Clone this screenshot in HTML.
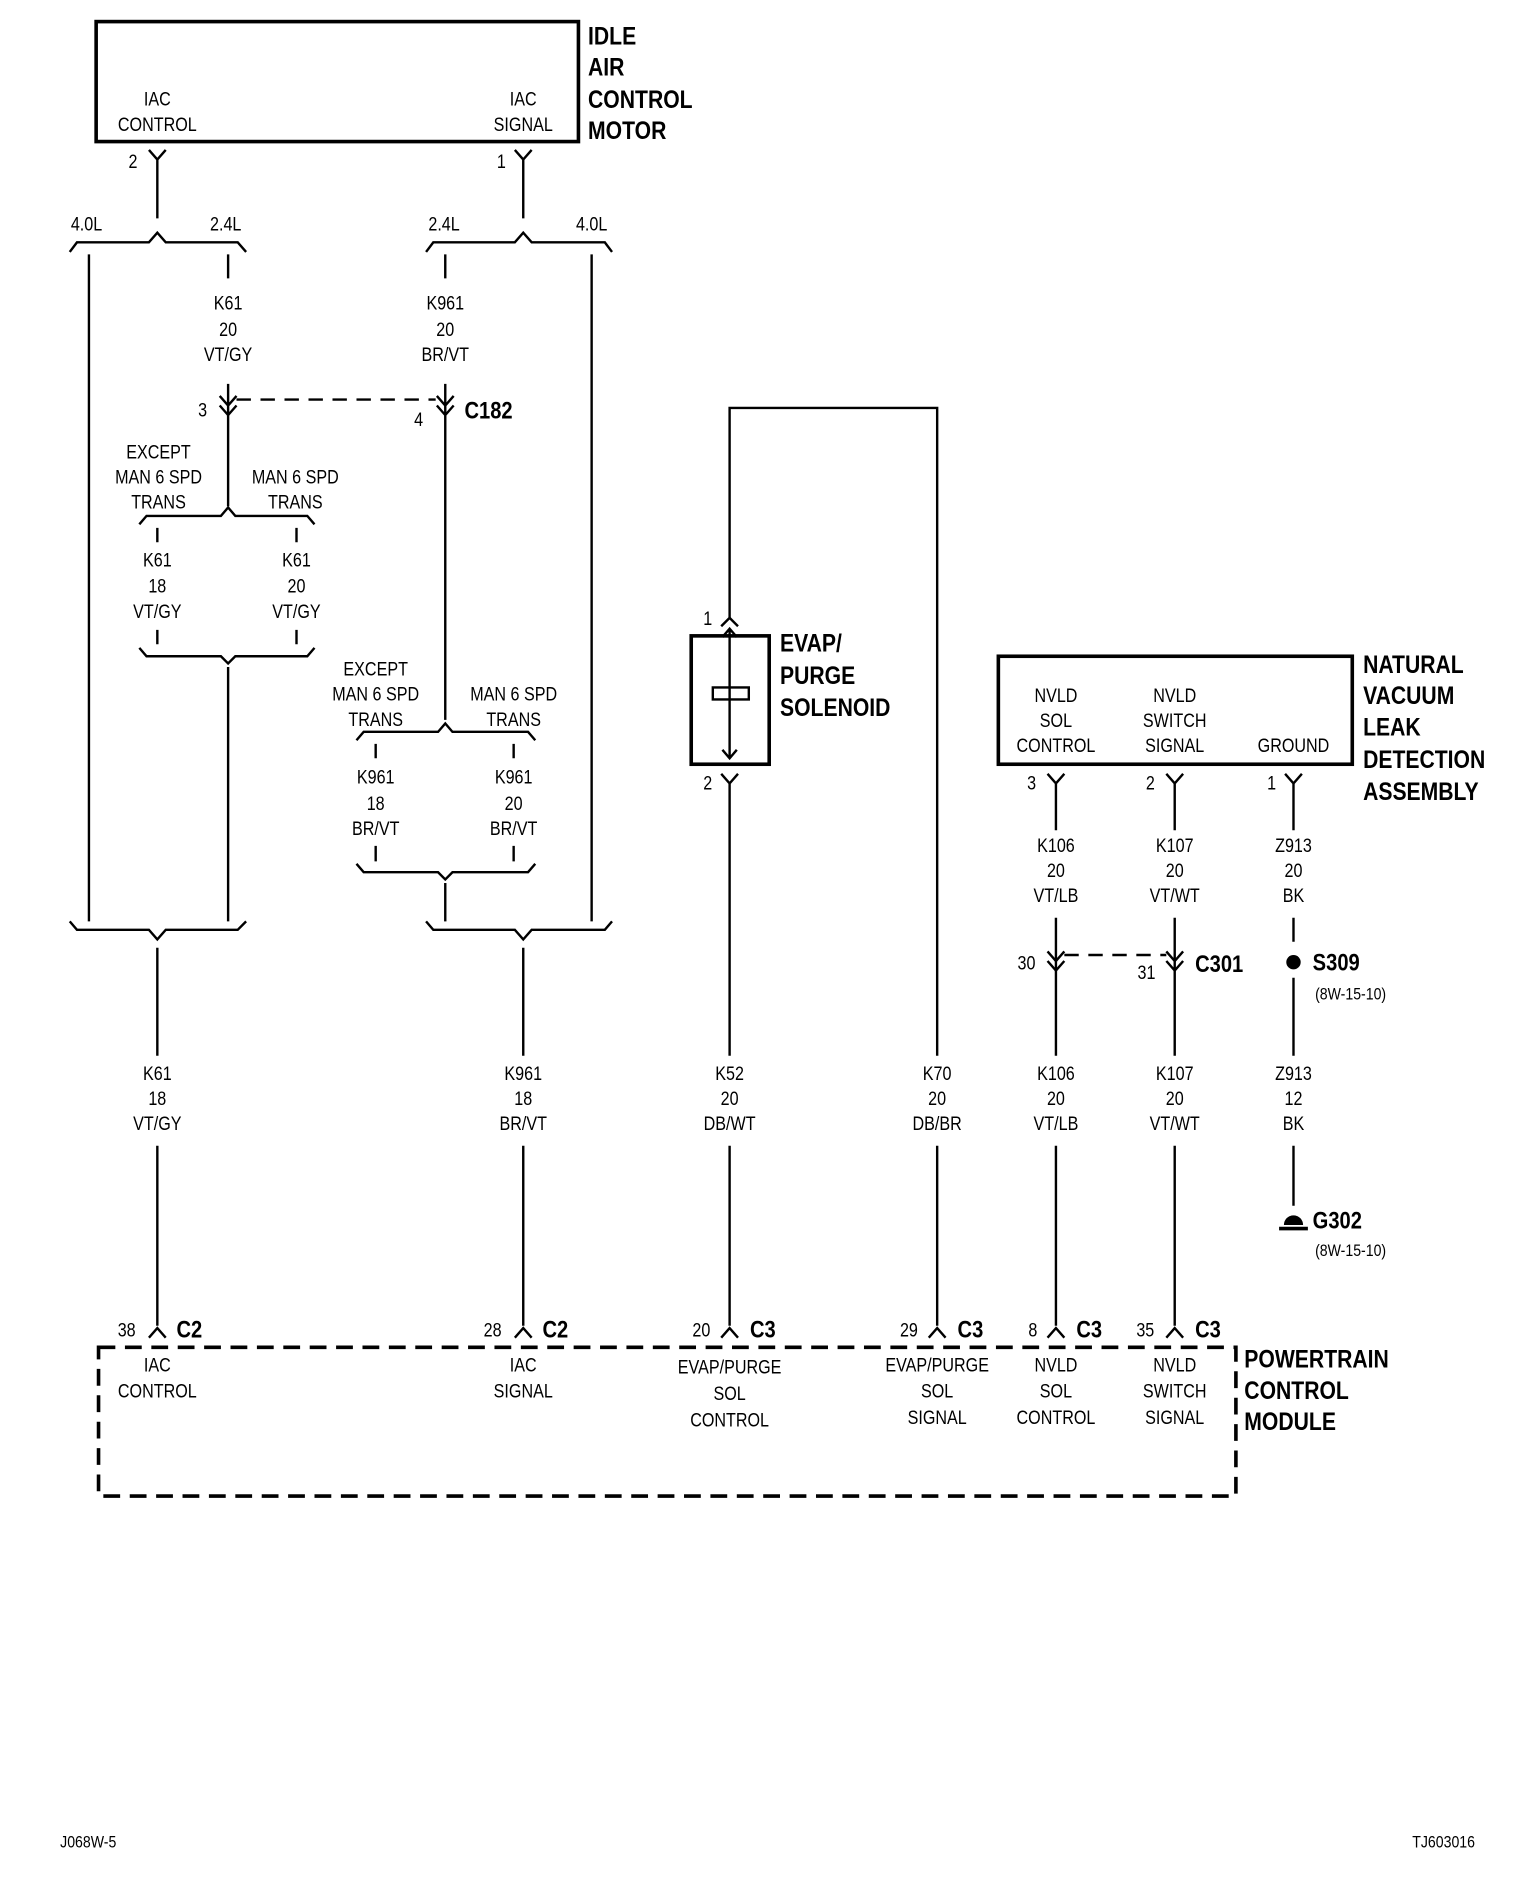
<!DOCTYPE html>
<html><head><meta charset="utf-8"><style>
html,body{margin:0;padding:0;background:#fff;}
svg{display:block;}
text{font-family:"Liberation Sans Narrow","Liberation Sans",sans-serif;font-size:16px;fill:#000;}
.b{font-weight:bold;font-size:21px;}
.c{text-anchor:middle;}
.s{font-size:14px;}
</style></head><body>
<svg id="d" width="1536" height="1904" viewBox="0 0 1280 1587" xmlns="http://www.w3.org/2000/svg">
<g fill="none" stroke="#000" stroke-width="2">
<rect x="80" y="18" width="402" height="100" stroke-width="3"/>
<path d="M124,125 L131,133 L138,125 M131,133 V182"/>
<path d="M429,125 L436,133 L443,125 M436,133 V182"/>
<path d="M58,210 L64,202 H124 L131,194 L138,202 H198 L205,210"/>
<path d="M355,210 L361,202 H429 L436,194 L443,202 H504 L510,210"/>
<path d="M74,212 V768 M190,212 V232 M371,212 V232 M493,212 V768"/>
<path d="M190,320 V346 M183,330 L190,338 L197,330 M183,338 L190,346 L197,338"/>
<path d="M371,320 V600 M364,330 L371,338 L378,330 M364,338 L371,346 L378,338"/>
<path d="M197,333 H363" stroke-dasharray="12,8"/>
<path d="M190,346 V422"/>
<path d="M116,437 L122,430 H184 L190,423 L196,430 H256 L262,437"/>
<path d="M131,440 V452 M247,440 V452 M131,525 V537 M247,525 V537"/>
<path d="M116,540 L122,547 H184 L190,553 L196,547 H256 L262,540"/>
<path d="M190,556 V768"/>
<path d="M297,617 L303,610 H365 L371,603 L377,610 H440 L446,617"/>
<path d="M313,620 V632 M428,620 V632 M313,705 V718 M428,705 V718"/>
<path d="M297,720 L303,727 H365 L371,733 L377,727 H440 L446,720"/>
<path d="M371,736 V768"/>
<path d="M58,768 L64,775 H124 L131,783 L138,775 H198 L205,768"/>
<path d="M355,768 L361,775 H429 L436,783 L443,775 H504 L510,768"/>
<path d="M131,790 V880 M131,955 V1105 M436,790 V880 M436,955 V1105"/>
<path d="M608,515 V340 H781 V880 M781,955 V1105"/>
<rect x="576" y="530" width="65" height="107" stroke-width="3"/>
<path d="M601,522 L608,515 L615,522"/>
<path d="M608,524 V632 M602,531 L608,524 L614,531 M602,625 L608,632 L614,625"/>
<rect x="594" y="573" width="30" height="10"/>
<path d="M601,645 L608,653 L615,645 M608,653 V880 M608,955 V1105"/>
<rect x="832" y="547" width="295" height="90" stroke-width="3"/>
<path d="M873,645 L880,653 L887,645 M880,653 V692 M880,765 V880 M880,955 V1105"/>
<path d="M972,645 L979,653 L986,645 M979,653 V692 M979,765 V880 M979,955 V1105"/>
<path d="M1071,645 L1078,653 L1085,645 M1078,653 V692 M1078,765 V785 M1078,815 V880 M1078,955 V1005"/>
<path d="M873,793 L880,801 L887,793 M873,801 L880,809 L887,801"/>
<path d="M972,793 L979,801 L986,793 M972,801 L979,809 L986,801"/>
<path d="M887,796 H972" stroke-dasharray="12,8"/>
<path d="M1066,1024 H1090" stroke-width="3"/>
<rect x="82" y="1123" width="948" height="124" stroke-width="3" stroke-dasharray="14,8"/>
<path d="M124,1115 L131,1107 L138,1115 M429,1115 L436,1107 L443,1115 M601,1115 L608,1107 L615,1115 M774,1115 L781,1107 L788,1115 M873,1115 L880,1107 L887,1115 M972,1115 L979,1107 L986,1115"/>
</g>
<circle cx="1078" cy="802" r="6"/>
<path d="M1070,1021 A8,8 0 0 1 1086,1021 Z"/>
<text class="c" x="131" y="88">IAC</text><text class="c" x="131" y="109">CONTROL</text>
<text class="c" x="436" y="88">IAC</text><text class="c" x="436" y="109">SIGNAL</text>
<text class="b" x="490" y="37">IDLE</text><text class="b" x="490" y="63">AIR</text><text class="b" x="490" y="90">CONTROL</text><text class="b" x="490" y="116">MOTOR</text>
<text x="107" y="140">2</text><text x="414" y="140">1</text>
<text class="c" x="72" y="192">4.0L</text><text class="c" x="188" y="192">2.4L</text>
<text class="c" x="370" y="192">2.4L</text><text class="c" x="493" y="192">4.0L</text>
<text class="c" x="190" y="258">K61</text><text class="c" x="190" y="280">20</text><text class="c" x="190" y="301">VT/GY</text>
<text class="c" x="371" y="258">K961</text><text class="c" x="371" y="280">20</text><text class="c" x="371" y="301">BR/VT</text>
<text x="165" y="347">3</text><text x="345" y="355">4</text><text class="b" x="387" y="349" style="font-size:20px">C182</text>
<text class="c" x="132" y="382">EXCEPT</text><text class="c" x="132" y="403">MAN 6 SPD</text><text class="c" x="132" y="424">TRANS</text>
<text class="c" x="246" y="403">MAN 6 SPD</text><text class="c" x="246" y="424">TRANS</text>
<text class="c" x="131" y="472">K61</text><text class="c" x="131" y="494">18</text><text class="c" x="131" y="515">VT/GY</text>
<text class="c" x="247" y="472">K61</text><text class="c" x="247" y="494">20</text><text class="c" x="247" y="515">VT/GY</text>
<text class="c" x="313" y="563">EXCEPT</text><text class="c" x="313" y="584">MAN 6 SPD</text><text class="c" x="313" y="605">TRANS</text>
<text class="c" x="428" y="584">MAN 6 SPD</text><text class="c" x="428" y="605">TRANS</text>
<text class="c" x="313" y="653">K961</text><text class="c" x="313" y="675">18</text><text class="c" x="313" y="696">BR/VT</text>
<text class="c" x="428" y="653">K961</text><text class="c" x="428" y="675">20</text><text class="c" x="428" y="696">BR/VT</text>
<text class="c" x="131" y="900">K61</text><text class="c" x="131" y="921">18</text><text class="c" x="131" y="942">VT/GY</text>
<text class="c" x="436" y="900">K961</text><text class="c" x="436" y="921">18</text><text class="c" x="436" y="942">BR/VT</text>
<text class="c" x="608" y="900">K52</text><text class="c" x="608" y="921">20</text><text class="c" x="608" y="942">DB/WT</text>
<text class="c" x="781" y="900">K70</text><text class="c" x="781" y="921">20</text><text class="c" x="781" y="942">DB/BR</text>
<text class="c" x="880" y="900">K106</text><text class="c" x="880" y="921">20</text><text class="c" x="880" y="942">VT/LB</text>
<text class="c" x="979" y="900">K107</text><text class="c" x="979" y="921">20</text><text class="c" x="979" y="942">VT/WT</text>
<text class="c" x="1078" y="900">Z913</text><text class="c" x="1078" y="921">12</text><text class="c" x="1078" y="942">BK</text>
<text x="586" y="521">1</text><text x="586" y="658">2</text>
<text class="b" x="650" y="543">EVAP/</text><text class="b" x="650" y="570">PURGE</text><text class="b" x="650" y="597">SOLENOID</text>
<text class="c" x="880" y="585">NVLD</text><text class="c" x="880" y="606">SOL</text><text class="c" x="880" y="627">CONTROL</text>
<text class="c" x="979" y="585">NVLD</text><text class="c" x="979" y="606">SWITCH</text><text class="c" x="979" y="627">SIGNAL</text>
<text class="c" x="1078" y="627">GROUND</text>
<text class="b" x="1136" y="561">NATURAL</text><text class="b" x="1136" y="587">VACUUM</text><text class="b" x="1136" y="613">LEAK</text><text class="b" x="1136" y="640">DETECTION</text><text class="b" x="1136" y="667">ASSEMBLY</text>
<text x="856" y="658">3</text><text x="955" y="658">2</text><text x="1056" y="658">1</text>
<text class="c" x="880" y="710">K106</text><text class="c" x="880" y="731">20</text><text class="c" x="880" y="752">VT/LB</text>
<text class="c" x="979" y="710">K107</text><text class="c" x="979" y="731">20</text><text class="c" x="979" y="752">VT/WT</text>
<text class="c" x="1078" y="710">Z913</text><text class="c" x="1078" y="731">20</text><text class="c" x="1078" y="752">BK</text>
<text x="848" y="808">30</text><text x="948" y="816">31</text><text class="b" x="996" y="810" style="font-size:20px">C301</text>
<text class="b" x="1094" y="809" style="font-size:20px">S309</text><text class="s" x="1096" y="833">(8W-15-10)</text>
<text class="b" x="1094" y="1024" style="font-size:20px">G302</text><text class="s" x="1096" y="1047">(8W-15-10)</text>
<text x="98" y="1114">38</text><text class="b" x="147" y="1115" style="font-size:20px">C2</text>
<text x="403" y="1114">28</text><text class="b" x="452" y="1115" style="font-size:20px">C2</text>
<text x="577" y="1114">20</text><text class="b" x="625" y="1115" style="font-size:20px">C3</text>
<text x="750" y="1114">29</text><text class="b" x="798" y="1115" style="font-size:20px">C3</text>
<text x="857" y="1114">8</text><text class="b" x="897" y="1115" style="font-size:20px">C3</text>
<text x="947" y="1114">35</text><text class="b" x="996" y="1115" style="font-size:20px">C3</text>
<text class="c" x="131" y="1143">IAC</text><text class="c" x="131" y="1165">CONTROL</text>
<text class="c" x="436" y="1143">IAC</text><text class="c" x="436" y="1165">SIGNAL</text>
<text class="c" x="608" y="1145">EVAP/PURGE</text><text class="c" x="608" y="1167">SOL</text><text class="c" x="608" y="1189">CONTROL</text>
<text class="c" x="781" y="1143">EVAP/PURGE</text><text class="c" x="781" y="1165">SOL</text><text class="c" x="781" y="1187">SIGNAL</text>
<text class="c" x="880" y="1143">NVLD</text><text class="c" x="880" y="1165">SOL</text><text class="c" x="880" y="1187">CONTROL</text>
<text class="c" x="979" y="1143">NVLD</text><text class="c" x="979" y="1165">SWITCH</text><text class="c" x="979" y="1187">SIGNAL</text>
<text class="b" x="1037" y="1140">POWERTRAIN</text><text class="b" x="1037" y="1166">CONTROL</text><text class="b" x="1037" y="1192">MODULE</text>
<text class="s" x="50" y="1540">J068W-5</text><text class="s" x="1177" y="1540">TJ603016</text>
</svg>
<script>
document.querySelectorAll('#d text').forEach(function(t){
  var x=parseFloat(t.getAttribute('x'));
  t.setAttribute('transform','translate('+x+',0) scale(0.84,1) translate('+(-x)+',0)');
});
</script>
</body></html>
